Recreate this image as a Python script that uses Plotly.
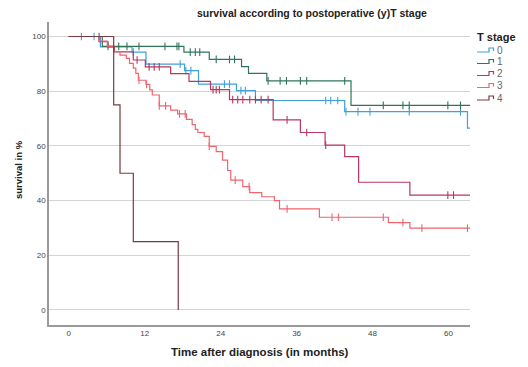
import plotly.graph_objects as go

# Kaplan-Meier estimates per postoperative (y)T stage
# event times (months) and survival (%) right after each event
stage_names = ["0", "1", "2", "3", "4"]

t0_events = [5.0, 10.0, 12.2, 18.3, 20.5, 26.5, 29.5, 43.6, 63.0]
t0_surv = [96.2, 94.3, 89.9, 87.5, 82.6, 80.2, 76.6, 72.5, 66.5]
t0_censor = [2.0, 4.0, 10.2, 17.6, 18.5, 19.3, 24.6, 25.4, 27.2, 27.9,
             40.6, 41.4, 42.5, 43.8, 45.7, 47.6, 53.8, 61.9]
t0_end = 63.4

t1_events = [5.3, 18.2, 22.2, 27.3, 28.4, 31.3, 44.6]
t1_surv = [96.4, 94.3, 91.6, 89.0, 86.5, 83.8, 74.8]
t1_censor = [4.8, 6.2, 7.9, 9.2, 11.1, 15.2, 17.1, 17.4, 19.2, 20.0, 20.7,
             23.3, 25.4, 26.2, 31.5, 33.4, 34.4, 36.6, 37.6, 43.6, 49.7,
             52.8, 53.8, 59.9, 61.9]
t1_end = 63.4

t2_events = [4.8, 6.2, 7.2, 10.2, 12.1, 16.1, 19.0, 22.4, 25.4, 32.3,
             36.6, 40.5, 43.6, 45.8, 53.9]
t2_surv = [98.1, 96.2, 94.4, 91.4, 88.9, 86.4, 83.6, 80.6, 76.9, 69.5,
           64.9, 60.3, 56.1, 46.7, 42.0]
t2_censor = [10.8, 12.7, 13.5, 14.3, 22.8, 23.3, 23.8, 25.9, 26.7, 27.5,
             28.6, 29.5, 30.4, 31.5, 34.5, 37.6, 40.6, 59.9, 60.8]
t2_end = 63.4

t3_events = [4.8, 6.1, 7.1, 8.1, 9.1, 9.6, 10.2, 10.6, 11.0, 12.2, 12.8,
             13.2, 14.3, 16.1, 17.2, 18.6, 19.5, 20.0, 20.4, 21.4, 22.2,
             23.3, 24.3, 25.1, 25.6, 27.5, 28.6, 30.5, 32.5, 33.3, 39.6,
             50.5, 53.9]
t3_surv = [98.3, 96.5, 94.5, 93.2, 92.0, 90.2, 88.4, 86.5, 84.0, 82.5, 80.5,
           78.6, 74.6, 73.1, 71.7, 69.7, 67.8, 66.0, 64.9, 63.5, 59.8,
           57.9, 54.8, 51.0, 47.5, 45.1, 42.9, 41.4, 40.0, 37.0, 33.9,
           31.9, 29.9]
t3_censor = [11.1, 12.3, 14.3, 15.3, 17.5, 18.4, 22.2, 26.3, 28.5, 34.5,
             41.6, 42.6, 49.7, 52.8, 55.8, 63.0]
t3_end = 63.4

t4_events = [7.1, 8.1, 10.2, 17.3]
t4_surv = [75.0, 50.0, 25.0, 0.0]
t4_censor = []
t4_end = 17.3

stage_colors = ["#3fa0dc", "#2f7658", "#b8375f", "#f0646e", "#7a3a42"]

groups = [
    (t0_events, t0_surv, t0_censor, t0_end),
    (t1_events, t1_surv, t1_censor, t1_end),
    (t2_events, t2_surv, t2_censor, t2_end),
    (t3_events, t3_surv, t3_censor, t3_end),
    (t4_events, t4_surv, t4_censor, t4_end),
]

x_ticks = [0, 12, 24, 36, 48, 60]
y_ticks = [0, 20, 40, 60, 80, 100]

# plot box in page pixels
W, H = 528, 367
PL, PR, PT, PB = 49, 470, 22, 325


def px(x):
    return (x - PL) / (PR - PL)


def py(y):
    return (PB - y) / (PB - PT)


def step_curve(events, surv, end):
    xs, ys = [0.0], [100.0]
    for t, s in zip(events, surv):
        xs.append(t)
        ys.append(s)
    if end > xs[-1]:
        xs.append(end)
        ys.append(ys[-1])
    return xs, ys


def surv_at(events, surv, t):
    val = 100.0
    for te, s in zip(events, surv):
        if te <= t:
            val = s
    return val


fig = go.Figure()

for name, color, (ev, sv, cens, end) in zip(stage_names, stage_colors, groups):
    xs, ys = step_curve(ev, sv, end)
    fig.add_trace(go.Scatter(
        x=xs, y=ys, mode="lines", line=dict(color=color, width=1.2, shape="hv"),
        name=name, showlegend=False, hoverinfo="skip"))
    if cens:
        fig.add_trace(go.Scatter(
            x=cens, y=[surv_at(ev, sv, c) for c in cens], mode="markers",
            marker=dict(symbol="line-ns", size=5.5,
                        line=dict(color=color, width=1.1)),
            showlegend=False, hoverinfo="skip"))

shapes = []
annotations = []

# legend: step glyph + label for each stage
leg_y = [52.0, 63.5, 75.5, 87.5, 100.0]
for name, color, yy in zip(stage_names, stage_colors, leg_y):
    pts = [(477, yy), (489, yy), (489, yy - 4), (493.5, yy - 4), (493.5, yy - 1)]
    path = "M " + " L ".join(f"{px(a):.4f},{py(b):.4f}" for a, b in pts)
    shapes.append(dict(type="path", xref="paper", yref="paper", path=path,
                       line=dict(color=color, width=1.2)))
    annotations.append(dict(x=px(495), y=py(yy - 2), xref="paper", yref="paper",
                            text=name, showarrow=False, xanchor="left",
                            yanchor="middle",
                            font=dict(size=10, color="#666",
                                      family="Liberation Sans")))

annotations.append(dict(x=px(475), y=py(37), xref="paper", yref="paper",
                        text="<b>T stage</b>", showarrow=False, xanchor="left",
                        yanchor="middle",
                        font=dict(size=11, color="#222", family="Liberation Sans")))

annotations.append(dict(x=px(312), y=py(13), xref="paper", yref="paper",
                        text="<b>survival according to postoperative (y)T stage</b>",
                        showarrow=False, xanchor="center", yanchor="middle",
                        font=dict(size=10.5, color="#222", family="Liberation Sans")))

annotations.append(dict(x=px(259.5), y=py(352), xref="paper", yref="paper",
                        text="<b>Time after diagnosis (in months)</b>",
                        showarrow=False, xanchor="center", yanchor="middle",
                        font=dict(size=11.5, color="#222", family="Liberation Sans")))

annotations.append(dict(x=px(18), y=py(170), xref="paper", yref="paper",
                        text="<b>survival in %</b>", textangle=-90,
                        showarrow=False, xanchor="center", yanchor="middle",
                        font=dict(size=9.5, color="#222", family="Liberation Sans")))

fig.update_layout(
    width=W, height=H,
    margin=dict(l=PL, r=W - PR, t=PT, b=H - PB),
    paper_bgcolor="white", plot_bgcolor="white",
    showlegend=False,
    shapes=shapes, annotations=annotations,
    font=dict(family="Liberation Sans", color="#444"),
    xaxis=dict(range=[-3.12, 63.4], tickvals=x_ticks, showgrid=False,
               zeroline=False, showline=True, linecolor="#9a9a9a", linewidth=1.5,
               ticks="", tickfont=dict(size=8, color="#444")),
    yaxis=dict(range=[-5.5, 105.3], tickvals=y_ticks, showgrid=True,
               gridcolor="#d4d4d4", gridwidth=1.3, zeroline=False,
               showline=True, linecolor="#9a9a9a", linewidth=1.5,
               ticks="", tickfont=dict(size=8, color="#444")),
)

fig.write_html("out.html")
